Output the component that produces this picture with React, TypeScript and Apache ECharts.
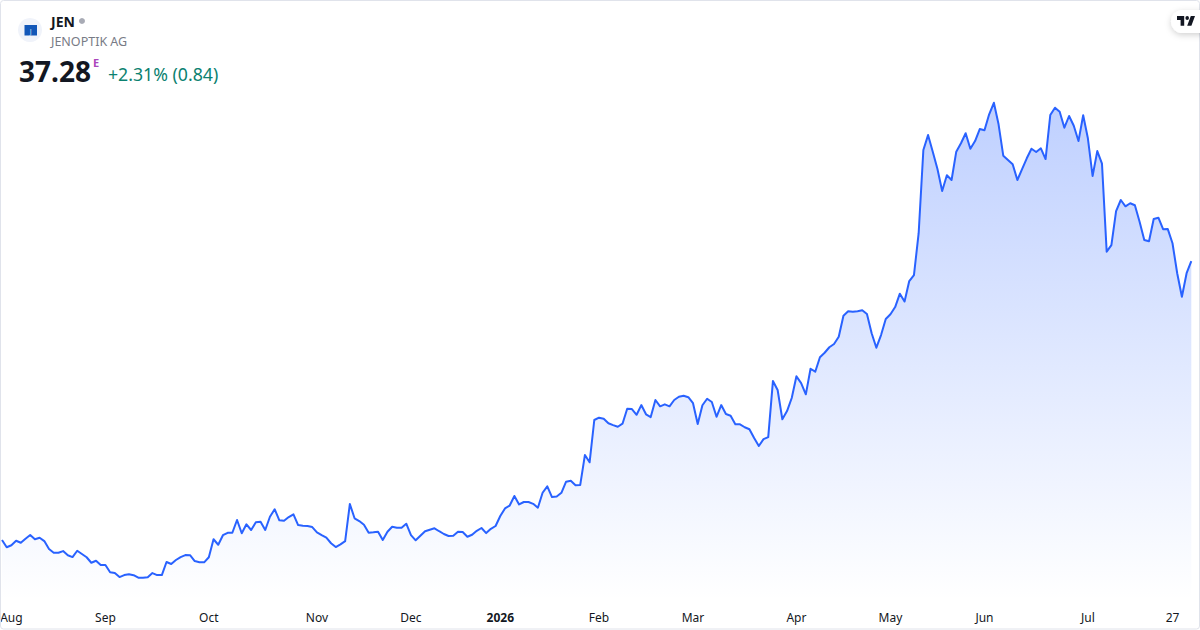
import React, { useEffect, useRef } from "react";
import * as echarts from "echarts";

const prices: number[] = [
  19.15, 18.68, 18.81, 19.10, 18.97, 19.23, 19.47, 19.20, 19.30, 19.08,
  18.56, 18.32, 18.32, 18.43, 18.16, 18.04, 18.45, 18.24, 18.03, 17.67,
  17.80, 17.52, 17.52, 17.05, 17.00, 16.74, 16.87, 16.92, 16.86, 16.70,
  16.70, 16.73, 17.00, 16.87, 16.87, 17.72, 17.59, 17.85, 18.04, 18.17,
  18.16, 17.78, 17.70, 17.70, 18.03, 19.20, 18.84, 19.46, 19.62, 19.62,
  20.45, 19.59, 20.17, 19.80, 20.30, 20.34, 19.80, 20.66, 21.15, 20.43,
  20.40, 20.64, 20.82, 20.12, 20.08, 20.06, 19.99, 19.65, 19.47, 19.30,
  18.94, 18.69, 18.87, 19.08, 21.49, 20.56, 20.38, 20.14, 19.62, 19.65,
  19.69, 19.15, 19.69, 20.01, 19.95, 19.95, 20.21, 19.47, 19.13, 19.43,
  19.72, 19.82, 19.91, 19.72, 19.54, 19.41, 19.43, 19.69, 19.67, 19.36,
  19.49, 19.75, 19.93, 19.60, 19.88, 20.06, 20.71, 21.20, 21.39, 22.01,
  21.46, 21.62, 21.62, 21.50, 21.25, 22.22, 22.64, 21.94, 21.98, 22.22,
  22.94, 23.00, 22.71, 22.72, 24.67, 24.20, 26.95, 27.10, 27.03, 26.74,
  26.62, 26.51, 26.71, 27.68, 27.66, 27.29, 27.92, 27.32, 27.14, 28.25,
  27.84, 27.97, 27.84, 28.25, 28.46, 28.53, 28.43, 28.04, 26.69, 27.91,
  28.33, 28.12, 27.16, 27.92, 27.34, 27.23, 26.67, 26.67, 26.48, 26.35,
  25.78, 25.26, 25.71, 25.84, 29.48, 28.90, 27.00, 27.53, 28.38, 29.79,
  29.35, 28.62, 30.28, 30.09, 31.03, 31.32, 31.68, 31.89, 32.36, 33.73,
  34.02, 33.99, 34.02, 34.08, 33.84, 32.59, 31.65, 32.47, 33.51, 33.82,
  34.29, 35.16, 34.65, 35.98, 36.37, 39.09, 44.50, 45.47, 44.39, 43.26,
  41.83, 42.86, 42.55, 44.39, 44.94, 45.59, 44.58, 45.08, 45.86, 45.78,
  46.82, 47.57, 46.17, 44.13, 43.85, 43.57, 42.55, 43.26, 43.96, 44.58,
  44.37, 44.61, 43.91, 46.77, 47.25, 46.99, 45.95, 46.71, 46.08, 45.08,
  46.76, 45.26, 42.81, 44.43, 43.61, 37.89, 38.32, 40.53, 41.25, 40.84,
  41.04, 40.91, 39.84, 38.65, 38.57, 40.01, 40.10, 39.35, 39.36, 38.44,
  36.49, 34.96, 36.49, 37.28,
];

const tickIndexes: number[] = [2, 22, 44, 67, 87, 106, 127, 147, 169, 189, 209, 231, 249];
const tickLabels: string[] = ["Aug", "Sep", "Oct", "Nov", "Dec", "2026", "Feb", "Mar", "Apr", "May", "Jun", "Jul", "27"];
const categories: string[] = prices.map((_, i) => {
  const at = tickIndexes.indexOf(i);
  return at >= 0 ? tickLabels[at] : `d${i}`;
});

const symbolText = "JEN";
const companyText = "JENOPTIK AG";
const lastPriceText = "37.28";
const flagText = "E";
const changeText = "+2.31% (0.84)";
const logoLetter = "J";

const FONT = '"Noto Sans", "Open Sans", sans-serif';
const LINE = "#2962ff";

try {
  echarts.graphic.registerShape(
    "tvlogo",
    echarts.graphic.extendPath(
      "M14 6H2v6h6v9h6V6Zm12 15h-7l6-15h7l-6 15Zm-7-9a3 3 0 1 0 0-6 3 3 0 0 0 0 6Z",
      {}
    )
  );
} catch (e) {
  // already registered
}

export default function App() {
  const ref = useRef<HTMLDivElement>(null);

  useEffect(() => {
    document.body.style.margin = "0";
    const chart = echarts.init(ref.current!, undefined, { renderer: "svg" });
    chart.setOption({
      animation: false,
      backgroundColor: "#ffffff",
      textStyle: { fontFamily: FONT },
      grid: { left: 2, right: 8.7, top: 100, height: 500, containLabel: false, outerBoundsMode: "none" },
      xAxis: {
        type: "category",
        data: categories,
        boundaryGap: false,
        axisLine: { show: false },
        axisTick: { show: false },
        splitLine: { show: false },
        axisLabel: {
          show: true,
          interval: (i: number) => tickIndexes.includes(i),
          margin: 11,
          fontFamily: FONT,
          fontSize: 12,
          color: "#131722",
          hideOverlap: false,
          formatter: (v: string) => (v === "2026" ? `{b|${v}}` : v),
          rich: {
            b: { fontFamily: FONT, fontSize: 12, fontWeight: 700, color: "#131722" },
          },
        },
      },
      yAxis: {
        type: "value",
        min: 15.25,
        max: 47.75,
        show: false,
        splitLine: { show: false },
      },
      series: [
        {
          type: "line",
          data: prices,
          showSymbol: false,
          symbol: "none",
          smooth: false,
          lineStyle: { color: LINE, width: 2, join: "round" },
          areaStyle: {
            opacity: 1,
            color: new echarts.graphic.LinearGradient(0, 0, 0, 1, [
              { offset: 0, color: "rgba(41,98,255,0.3)" },
              { offset: 1, color: "rgba(41,98,255,0)" },
            ]),
          },
        },
      ],
      graphic: [
        {
          type: "rect",
          z: 100,
          silent: true,
          shape: { x: 0.5, y: 0.5, width: 1199, height: 628.5, r: 3 },
          style: { fill: "none", stroke: "#e0e3eb", lineWidth: 1 },
        },
        { type: "circle", z: 101, shape: { cx: 30, cy: 30, r: 12 }, style: { fill: "#f0f3fa" } },
        { type: "rect", z: 102, shape: { x: 24.5, y: 25, width: 12.5, height: 10.5 }, style: { fill: "#1257b8" } },
        {
          type: "text",
          z: 103,
          style: { x: 30.7, y: 31, text: logoLetter, fontFamily: FONT, fontSize: 7, fill: "#cfe0f7", align: "center", verticalAlign: "middle" },
        },
        {
          type: "text",
          z: 102,
          style: { x: 51, y: 21, text: symbolText, fontFamily: FONT, fontSize: 14, fontWeight: 700, fill: "#131722", verticalAlign: "middle" },
        },
        { type: "circle", z: 102, shape: { cx: 82, cy: 21, r: 3 }, style: { fill: "#a8abb5" } },
        {
          type: "text",
          z: 102,
          style: { x: 51, y: 41, text: companyText, fontFamily: FONT, fontSize: 12.5, fill: "#787b86", verticalAlign: "middle" },
        },
        {
          type: "text",
          z: 102,
          style: { x: 19, y: 71, text: lastPriceText, fontFamily: FONT, fontSize: 28, fontWeight: 700, fill: "#131722", verticalAlign: "middle" },
        },
        {
          type: "text",
          z: 102,
          style: { x: 93, y: 62, text: flagText, fontFamily: FONT, fontSize: 11, fontWeight: 700, fill: "#ab47bc", verticalAlign: "middle" },
        },
        {
          type: "text",
          z: 102,
          style: { x: 108, y: 74, text: changeText, fontFamily: FONT, fontSize: 17.7, fill: "#0b8170", verticalAlign: "middle" },
        },
        {
          type: "rect",
          z: 104,
          shape: { x: 1171, y: 10, width: 60, height: 23, r: 11.5 },
          style: { fill: "#ffffff", shadowBlur: 6, shadowColor: "rgba(0,0,0,0.18)", shadowOffsetY: 2 },
        },
        {
          type: "tvlogo",
          z: 105,
          x: 1175.8,
          y: 12,
          scaleX: 0.6,
          scaleY: 0.66,
          style: { fill: "#131722" },
        },
      ],
    });
    return () => chart.dispose();
  }, []);

  return <div ref={ref} style={{ width: 1200, height: 630, overflow: "hidden" }} />;
}
